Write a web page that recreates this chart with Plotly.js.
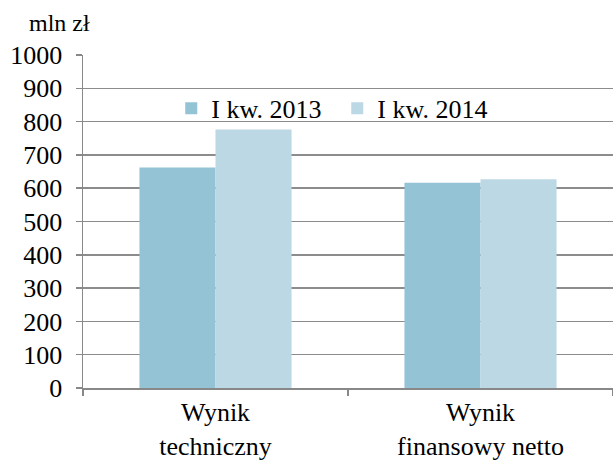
<!DOCTYPE html>
<html>
<head>
<meta charset="utf-8">
<script src="https://cdn.plot.ly/plotly-3.0.1.min.js"></script>
<style>html,body{margin:0;padding:0;background:#fff;}#chart{width:613px;height:461px;}</style>
</head>
<body>
<div id="chart"></div>
<script>
const categories = ["Wynik<br>techniczny", "Wynik<br>finansowy netto"];
const seriesNames = ["I kw. 2013", "I kw. 2014"];
const values2013 = [662, 616];
const values2014 = [776, 627];
const yTicks = [0, 100, 200, 300, 400, 500, 600, 700, 800, 900, 1000];
const unitLabel = "mln zł";

const FAM = "Liberation Serif, Times New Roman, serif";
function f(size) { return {family: FAM, size: size, color: "#000"}; }
const traces = [
  {type: "bar", name: seriesNames[0], x: categories, y: values2013, marker: {color: "#93c3d5", line: {width: 0}}},
  {type: "bar", name: seriesNames[1], x: categories, y: values2014, marker: {color: "#bcd8e4", line: {width: 0}}}
];
const layout = {
  width: 613, height: 461,
  margin: {l: 83, r: 0, t: 55, b: 73},
  paper_bgcolor: "#fff", plot_bgcolor: "#fff",
  font: f(26),
  barmode: "group", bargap: 0.426, bargroupgap: 0,
  showlegend: true,
  legend: {orientation: "h", x: 0.1665, y: 0.84, xanchor: "left", yanchor: "middle",
           font: f(26), bgcolor: "rgba(0,0,0,0)", itemwidth: 30, traceorder: "normal",
           entrywidth: 121, entrywidthmode: "pixels"},
  xaxis: {type: "category", tickson: "boundaries", ticks: "outside", ticklen: 6, tickwidth: 1.5,
          tickcolor: "#888", showline: true, linecolor: "#888", linewidth: 1.5, showgrid: false,
          tickfont: f(26), fixedrange: true},
  yaxis: {range: [0, 1000], tickvals: yTicks, ticktext: yTicks.map(String), ticks: "outside", ticklen: 6,
          tickwidth: 1.5, tickcolor: "#888", showline: true, linecolor: "#888", linewidth: 1.5,
          showgrid: true, gridcolor: "#8c8c8c", gridwidth: 1.5, zeroline: false,
          tickfont: f(26), ticklabelstandoff: 8, fixedrange: true},
  annotations: [{text: unitLabel, xref: "paper", yref: "paper", x: -0.106, y: 1.095,
                 xanchor: "left", yanchor: "middle", showarrow: false, font: f(24)}]
};
Plotly.newPlot("chart", traces, layout, {displayModeBar: false, staticPlot: true});
</script>
</body>
</html>
